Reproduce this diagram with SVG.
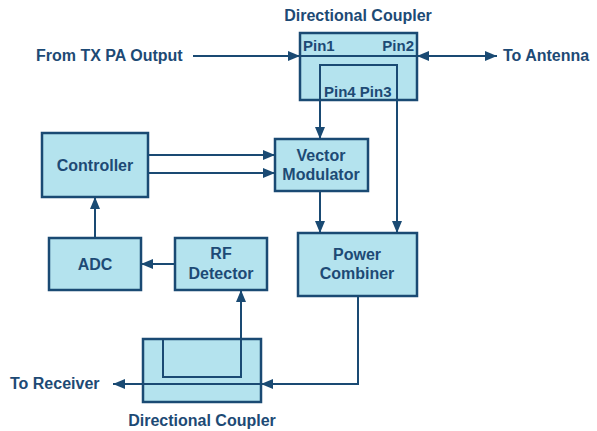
<svg xmlns="http://www.w3.org/2000/svg" width="597" height="431" viewBox="0 0 597 431">
<style>
.box{fill:#b4e3ee;stroke:#1a4a73;stroke-width:2.5}
.ln{fill:none;stroke:#1a4a73;stroke-width:2}
text{font-family:"Liberation Sans",Arial,sans-serif;font-weight:bold;font-size:16px;fill:#1d4a75}
.c{text-anchor:middle}
.p{font-size:15px}
</style>
<defs>
<marker id="ah" viewBox="0 0 12 10" refX="12" refY="5" markerWidth="12" markerHeight="10" markerUnits="userSpaceOnUse" orient="auto-start-reverse">
<path d="M0,0 L12,5 L0,10 z" fill="#1a4a73"/>
</marker>
</defs>
<rect width="597" height="431" fill="#fff"/>
<g id="coupler-top">
<rect class="box" x="300" y="33" width="117" height="67"/>
<line class="ln" x1="300" y1="56" x2="417" y2="56"/>
<text class="p" x="303" y="51">Pin1</text>
<text class="p" x="414" y="51" text-anchor="end">Pin2</text>
<text class="p" x="324" y="97">Pin4 Pin3</text>
<text class="c" x="358" y="21">Directional Coupler</text>
</g>
<g id="controller">
<rect class="box" x="42" y="133" width="106" height="64"/>
<text class="c" x="95" y="171">Controller</text>
</g>
<g id="vector-modulator">
<rect class="box" x="275" y="139" width="93" height="52"/>
<text class="c" x="321" y="161">Vector</text>
<text class="c" x="321" y="180">Modulator</text>
</g>
<g id="adc">
<rect class="box" x="49" y="238" width="92" height="52"/>
<text class="c" x="95" y="270">ADC</text>
</g>
<g id="rf-detector">
<rect class="box" x="175" y="238" width="92" height="52"/>
<text class="c" x="221" y="259">RF</text>
<text class="c" x="221" y="279">Detector</text>
</g>
<g id="power-combiner">
<rect class="box" x="298" y="233" width="119" height="63"/>
<text class="c" x="357" y="260">Power</text>
<text class="c" x="357" y="279">Combiner</text>
</g>
<g id="coupler-bottom">
<rect class="box" x="143" y="339" width="118" height="63"/>
<text class="c" x="202" y="426">Directional Coupler</text>
</g>
<g id="labels">
<text x="36" y="61">From TX PA Output</text>
<text x="503" y="61">To Antenna</text>
<text x="10" y="389">To Receiver</text>
</g>
<g id="connectors">
<line class="ln" x1="193" y1="56" x2="300" y2="56" marker-end="url(#ah)"/>
<line class="ln" x1="417" y1="56" x2="497" y2="56" marker-start="url(#ah)" marker-end="url(#ah)"/>
<path class="ln" d="M320,65 H397 V233" marker-end="url(#ah)"/>
<line class="ln" x1="320" y1="64" x2="320" y2="139" marker-end="url(#ah)"/>
<line class="ln" x1="148" y1="155" x2="275" y2="155" marker-end="url(#ah)"/>
<line class="ln" x1="148" y1="173" x2="275" y2="173" marker-end="url(#ah)"/>
<line class="ln" x1="320" y1="191" x2="320" y2="233" marker-end="url(#ah)"/>
<line class="ln" x1="95" y1="238" x2="95" y2="197" marker-end="url(#ah)"/>
<line class="ln" x1="175" y1="264" x2="141" y2="264" marker-end="url(#ah)"/>
<path class="ln" d="M163,339 V377 H241 V290" marker-end="url(#ah)"/>
<path class="ln" d="M358,296 V384 H261" marker-end="url(#ah)"/>
<line class="ln" x1="261" y1="384" x2="113" y2="384" marker-end="url(#ah)"/>
</g>
</svg>
